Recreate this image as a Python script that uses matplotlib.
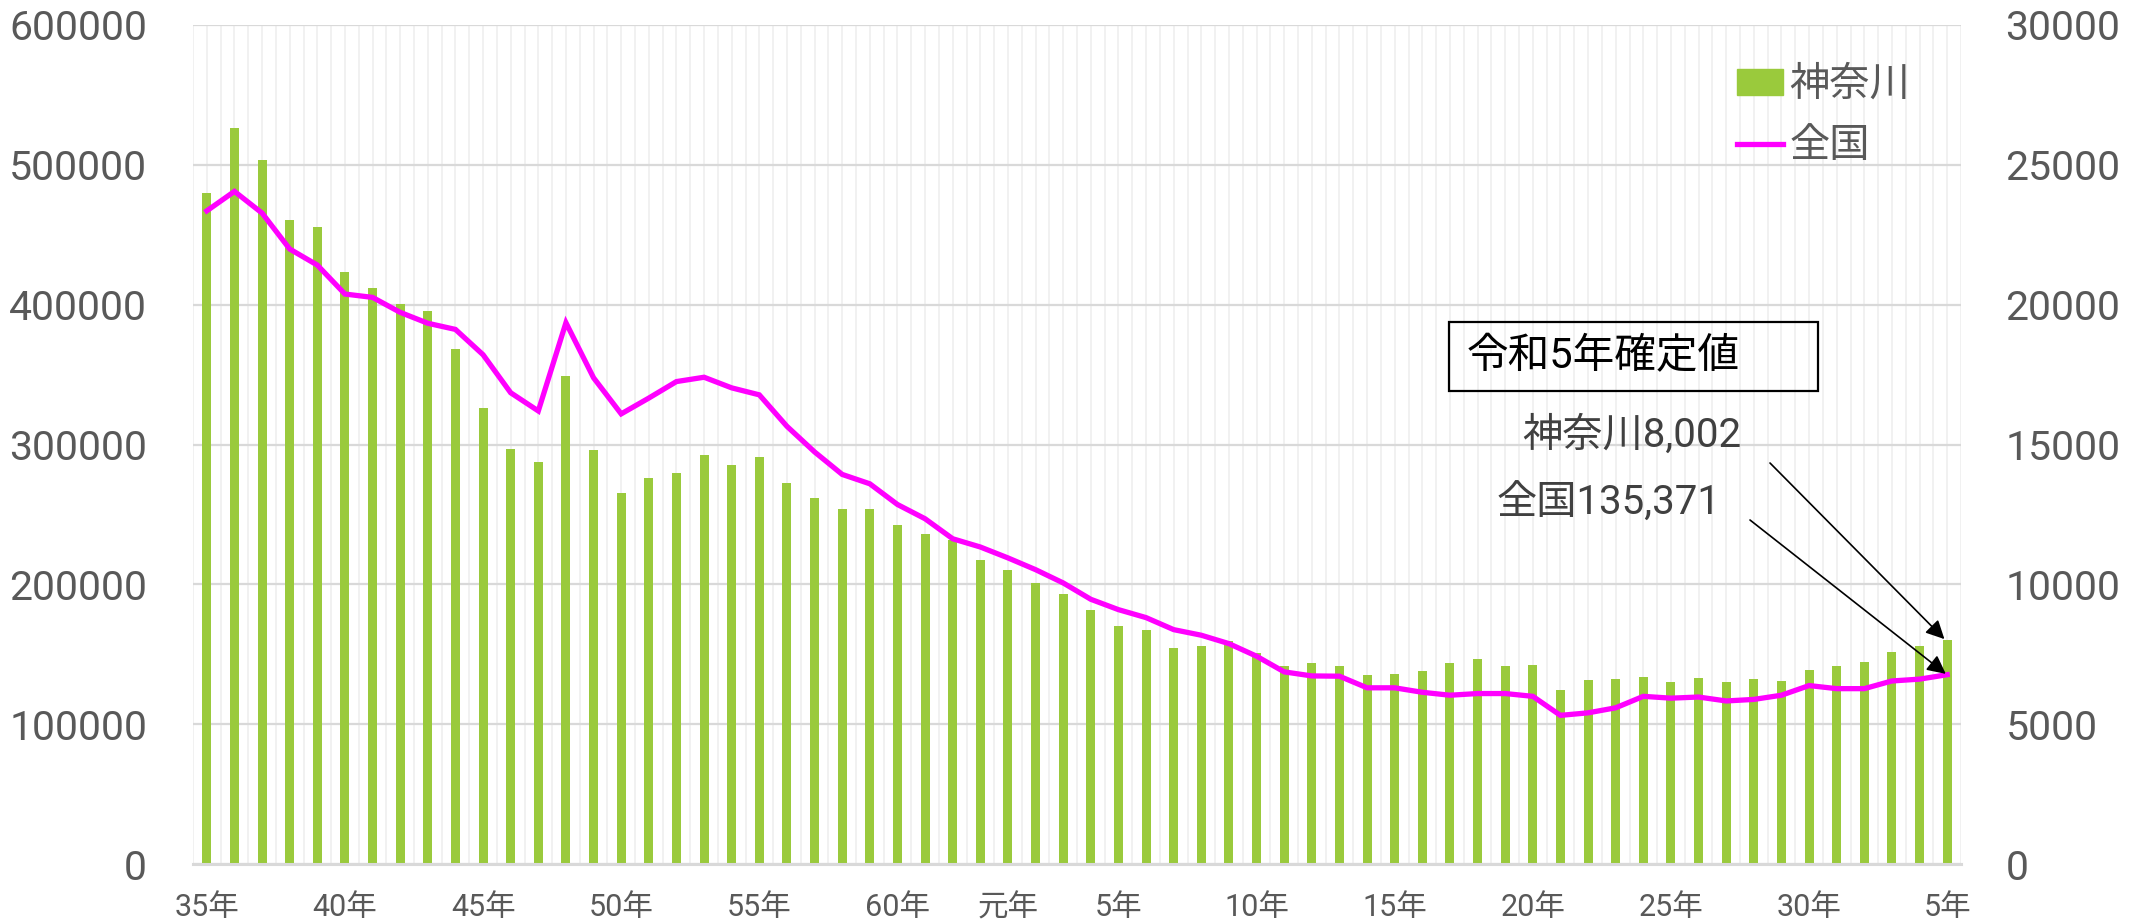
import matplotlib.pyplot as plt
import matplotlib.patches as mpatches
from matplotlib.lines import Line2D
import numpy as np

plt.rcParams['font.family'] = ['Roboto', 'Noto Sans CJK JP', 'DejaVu Sans']

# 神奈川 (right axis), 昭和35年 .. 令和5年
kanagawa = [24000, 26320, 25170, 23040, 22770, 21180, 20610, 20040, 19790, 18400,
            16315, 14850, 14370, 17440, 14820, 13260, 13790, 13980, 14630, 14270,
            14560, 13630, 13080, 12680, 12700, 12110, 11810, 11570, 10880, 10510,
            10050, 9640, 9100, 8520, 8370, 7710, 7790, 7960, 7550, 7070,
            7170, 7070, 6750, 6810, 6890, 7190, 7340, 7090, 7120, 6230,
            6590, 6610, 6690, 6500, 6640, 6510, 6610, 6560, 6930, 7090,
            7210, 7570, 7790, 8002]

# 全国 (left axis)
zenkoku = [467100, 481000, 465500, 439800, 428300, 407600, 405200, 394500, 386700, 382300,
           364200, 337000, 324000, 387100, 347700, 321900, 333200, 345000, 348100, 340500,
           335500, 313000, 294700, 278600, 271900, 257100, 246900, 232600, 226700, 218900,
           210500, 201000, 189300, 181900, 176200, 167600, 163600, 157600, 148600, 137400,
           134500, 134300, 126000, 126000, 122800, 120700, 121900, 121900, 119900, 106300,
           108100, 111700, 119900, 118600, 119400, 116600, 117700, 120700, 127600, 125400,
           125400, 130900, 132200, 135371]

tick_pos = [0, 5, 10, 15, 20, 25, 29, 33, 38, 43, 48, 53, 58, 63]
tick_labels = ['35年', '40年', '45年', '50年', '55年', '60年', '元年', '5年',
               '10年', '15年', '20年', '25年', '30年', '5年']

W, H = 2149, 924
fig = plt.figure(figsize=(W / 100, H / 100), dpi=100)
ax2 = fig.add_axes([193 / W, 1 - 864 / H, (1961 - 193) / W, (864 - 25) / H])
ax = ax2.twinx()
# line on top of the bars
ax.set_zorder(ax2.get_zorder() + 1)
ax.patch.set_visible(False)

x = np.arange(len(kanagawa))
label_color = '#595959'

# grid (on the lower axes so bars sit above it)
ax2.vlines(np.arange(-0.5, len(x), 0.5), 0, 30000, color='#EFEFEF', lw=1.2, zorder=0)
ax2.set_yticks(np.arange(0, 30001, 5000))
ax2.grid(axis='y', color='#D9D9D9', lw=1.6, zorder=0.5)
ax2.set_axisbelow(True)

ax2.bar(x, kanagawa, width=0.33, color='#9ACA3C', zorder=2)
ax.plot(x, zenkoku, color='#FF00FF', lw=3.8, solid_joinstyle='miter')

ax2.set_xlim(-0.5, len(x) - 0.5)
ax2.set_ylim(0, 30000)
ax.set_ylim(0, 600000)
ax.set_yticks(np.arange(0, 600001, 100000))

# left axis shows 全国 (0-600000), right axis 神奈川 (0-30000)
ax.yaxis.tick_left()
ax2.yaxis.tick_right()

ax.tick_params(axis='y', length=0, pad=33, labelsize=29.5, labelcolor=label_color)
ax2.tick_params(axis='y', length=0, pad=32, labelsize=29.5, labelcolor=label_color)
ax2.set_xticks(tick_pos)
ax2.set_xticklabels(tick_labels)
ax2.tick_params(axis='x', length=0, pad=21, labelsize=22, labelcolor=label_color)

for a in (ax, ax2):
    for s in a.spines.values():
        s.set_visible(False)
ax2.spines['bottom'].set_visible(True)
ax2.spines['bottom'].set_color('#D9D9D9')
ax2.spines['bottom'].set_linewidth(2.2)

# legend
handles = [mpatches.Patch(color='#9ACA3C'),
           Line2D([], [], color='#FF00FF', lw=3.8)]
fig.legend(handles, ['神奈川', '全国'], loc='center left',
           bbox_to_anchor=(1737 / W, 1 - 115 / H), frameon=False,
           fontsize=29, labelcolor=label_color, handlelength=1.15,
           handleheight=0.6, handletextpad=0.15, labelspacing=0.55,
           borderpad=0, borderaxespad=0)

# 令和5年確定値 box
fig.patches.append(mpatches.Rectangle((1449 / W, 1 - 391 / H), (1818 - 1449) / W, (391 - 322) / H,
                                      transform=fig.transFigure, fill=False,
                                      edgecolor='black', lw=1.6))
fig.text(1467 / W, 1 - 357 / H, '令和5年確定値', fontsize=30, color='black',
         ha='left', va='center')

fig.text(1741 / W, 1 - 435 / H, '神奈川8,002', fontsize=29, color='#404040',
         ha='right', va='center')
fig.text(1720 / W, 1 - 503 / H, '全国135,371', fontsize=29, color='#404040',
         ha='right', va='center')

arrow = dict(arrowstyle='-|>', color='black', lw=1.2, mutation_scale=28,
             shrinkA=0, shrinkB=0)
ax2.annotate('', xy=(62.9, kanagawa[-1] + 40), xytext=(1770 / W, 1 - 463 / H),
             textcoords='figure fraction', arrowprops=arrow)
ax.annotate('', xy=(62.95, zenkoku[-1] + 600), xytext=(1750 / W, 1 - 520 / H),
            textcoords='figure fraction', arrowprops=arrow)

fig.savefig('out.png', dpi=100)
